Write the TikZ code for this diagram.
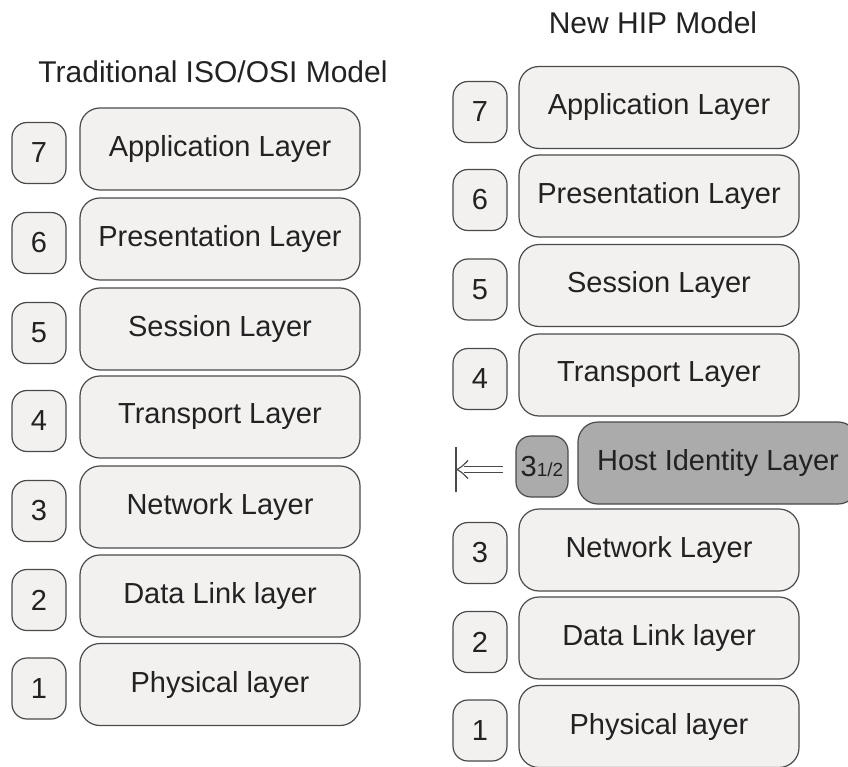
\documentclass[tikz,border=0pt]{standalone}
\usepackage{fontspec}
\setmainfont{Liberation Sans}
\usetikzlibrary{arrows.meta}
\definecolor{boxfill}{HTML}{F3F1F0}
\definecolor{hipfill}{HTML}{ABABAB}
\definecolor{edge}{HTML}{4A4A4A}
\definecolor{txt}{HTML}{222222}
\begin{document}
\begin{tikzpicture}[x=1pt,y=-1pt,
  font=\fontsize{29}{34}\selectfont, text=txt,
  layer/.style={draw=edge, line width=1.2pt, fill=boxfill, rounded corners=20pt,
    minimum width=280pt, minimum height=82pt, inner sep=0pt},
  num/.style={draw=edge, line width=1.2pt, fill=boxfill, rounded corners=15pt,
    minimum width=54pt, minimum height=61pt, inner sep=0pt},
  hip/.style={fill=hipfill},
  title/.style={inner sep=0pt, font=\fontsize{30}{34}\selectfont},
  arrowline/.style={draw=edge, line width=1.1pt}]
\useasboundingbox (0,0) rectangle (848,767);
\clip (0,0) rectangle (848,767);
\fill[white] (0,0) rectangle (848,767);

% titles
\node[title] (tl) at (213,72) {Traditional ISO/OSI Model};
\node[title] (tr) at (653,23) {New HIP Model};

% left column
\node[layer] (L7) at (220,149) {Application Layer};
\node[layer] (L6) at (220,239) {Presentation Layer};
\node[layer] (L5) at (220,329) {Session Layer};
\node[layer] (L4) at (220,417) {Transport Layer};
\node[layer] (L3) at (220,507) {Network Layer};
\node[layer] (L2) at (220,596) {Data Link layer};
\node[layer] (L1) at (220,684.5) {Physical layer};
\node[num] (n7) at (39,153) {7};
\node[num] (n6) at (39,243) {6};
\node[num] (n5) at (39,333) {5};
\node[num] (n4) at (39,421) {4};
\node[num] (n3) at (39,511) {3};
\node[num] (n2) at (39,600) {2};
\node[num] (n1) at (39,688.5) {1};

% right column
\node[layer] (R7) at (659,107.5) {Application Layer};
\node[layer] (R6) at (659,196) {Presentation Layer};
\node[layer] (R5) at (659,285.5) {Session Layer};
\node[layer] (R4) at (659,375) {Transport Layer};
\node[layer,hip] (RH) at (718,463) {Host Identity Layer};
\node[layer] (R3) at (659,550) {Network Layer};
\node[layer] (R2) at (659,638) {Data Link layer};
\node[layer] (R1) at (659,726.5) {Physical layer};
\node[num] (m7) at (480,112) {7};
\node[num] (m6) at (480,200) {6};
\node[num] (m5) at (480,289.5) {5};
\node[num] (m4) at (480,379) {4};
\node[num,hip,minimum width=52pt] (mh) at (542,466.5) {3{\fontsize{19}{19}\selectfont 1/2}};
\node[num] (m3) at (480,553) {3};
\node[num] (m2) at (480,642) {2};
\node[num] (m1) at (480,730.5) {1};

% double arrow to bar
\coordinate (bar) at (456,469.5);
\coordinate (bartop) at (456,447);
\coordinate (barbot) at (456,492);
\coordinate (astart) at (503,469.5);
\draw[arrowline] (bartop) -- (barbot);
\draw[arrowline] ([yshift=-3pt]astart) -- ([xshift=8pt,yshift=-3pt]bar);
\draw[arrowline] ([yshift=3pt]astart) -- ([xshift=8pt,yshift=3pt]bar);
\draw[arrowline, line join=round]
  ([xshift=12pt,yshift=-9pt]bar) .. controls ([xshift=6pt,yshift=-3pt]bar) .. ([xshift=1pt]bar)
  .. controls ([xshift=6pt,yshift=3pt]bar) .. ([xshift=12pt,yshift=9pt]bar);
\end{tikzpicture}
\end{document}
